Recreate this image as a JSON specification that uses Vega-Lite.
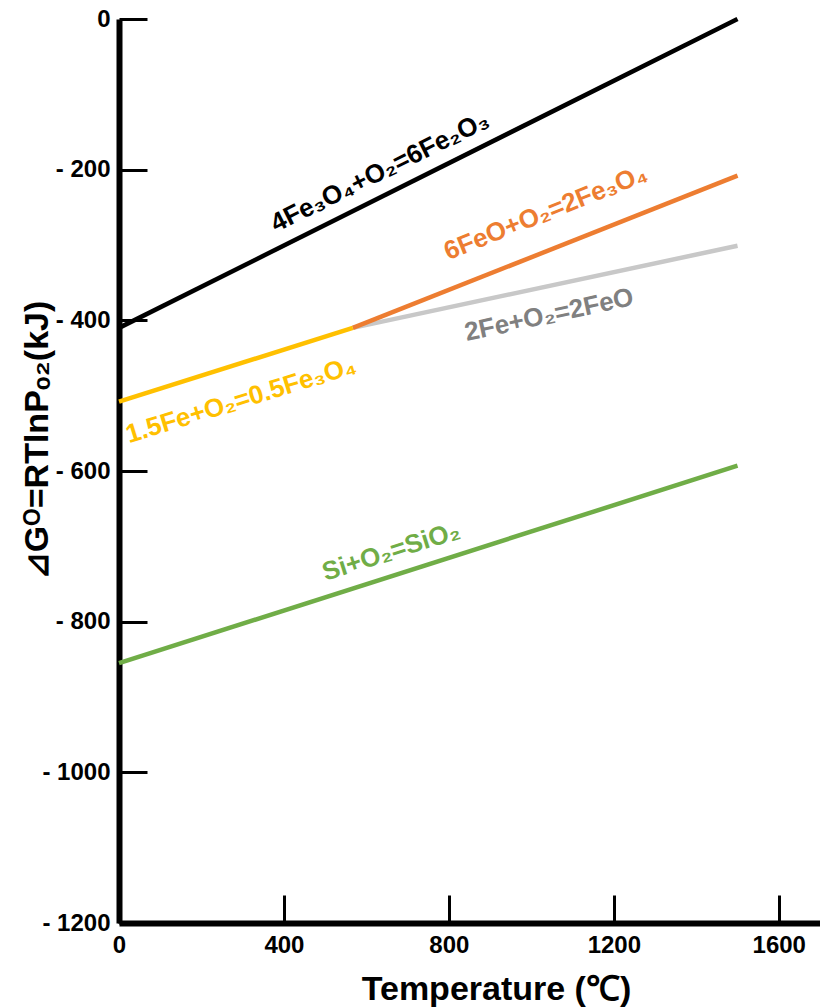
{
  "$schema": "https://vega.github.io/schema/vega-lite/v6.json",
  "autosize": "none",
  "width": 701,
  "height": 904,
  "padding": {"left": 119, "top": 19, "right": 0, "bottom": 84},
  "background": "white",
  "config": {
    "view": {"stroke": null},
    "font": "Liberation Sans",
    "axis": {
      "grid": false,
      "domainColor": "black",
      "domainWidth": 6,
      "tickColor": "black",
      "tickWidth": 3,
      "tickSize": -28,
      "labelFont": "Liberation Sans",
      "labelFontWeight": "bold",
      "labelFontSize": 24,
      "labelColor": "black",
      "labelFlush": false,
      "labelOverlap": false,
      "titleFont": "Liberation Sans",
      "titleFontWeight": "bold",
      "titleFontSize": 34,
      "titleColor": "black"
    }
  },
  "datasets": {
    "reactions": [
      {"reaction": "2Fe+O2=2FeO", "T": 567, "G": -410},
      {"reaction": "2Fe+O2=2FeO", "T": 1500, "G": -301},
      {"reaction": "6FeO+O2=2Fe3O4", "T": 567, "G": -410},
      {"reaction": "6FeO+O2=2Fe3O4", "T": 1500, "G": -208},
      {"reaction": "1.5Fe+O2=0.5Fe3O4", "T": 0, "G": -508},
      {"reaction": "1.5Fe+O2=0.5Fe3O4", "T": 567, "G": -410},
      {"reaction": "4Fe3O4+O2=6Fe2O3", "T": 0, "G": -410},
      {"reaction": "4Fe3O4+O2=6Fe2O3", "T": 1500, "G": 0},
      {"reaction": "Si+O2=SiO2", "T": 0, "G": -855},
      {"reaction": "Si+O2=SiO2", "T": 1500, "G": -593}
    ]
  },
  "layer": [
    {
      "data": {"name": "reactions"},
      "mark": {"type": "line", "strokeWidth": 4.5, "strokeCap": "butt"},
      "encoding": {
        "x": {
          "field": "T",
          "type": "quantitative",
          "scale": {"domain": [0, 1700], "nice": false, "zero": false},
          "axis": {
            "values": [0, 400, 800, 1200, 1600],
            "format": "d",
            "title": "Temperature (℃)",
            "labelPadding": 38,
            "titleX": 377,
            "titleY": 76,
            "titleBaseline": "alphabetic"
          }
        },
        "y": {
          "field": "G",
          "type": "quantitative",
          "scale": {"domain": [-1200, 0], "nice": false, "zero": false},
          "axis": {
            "values": [0, -200, -400, -600, -800, -1000, -1200],
            "labelExpr": "datum.value == 0 ? '0' : '-  ' + format(abs(datum.value), 'd')",
            "labelPadding": 37,
            "title": "⊿Gᴼ=RTlnPₒ₂(kJ)",
            "titleAngle": -90,
            "titleX": -72,
            "titleY": 421,
            "titleAlign": "center",
            "titleBaseline": "alphabetic"
          }
        },
        "color": {
          "field": "reaction",
          "type": "nominal",
          "scale": {
            "domain": ["2Fe+O2=2FeO", "6FeO+O2=2Fe3O4", "1.5Fe+O2=0.5Fe3O4", "4Fe3O4+O2=6Fe2O3", "Si+O2=SiO2"],
            "range": ["#C8C8C8", "#ED7D31", "#FFC000", "#000000", "#70AD47"]
          },
          "legend": null
        }
      }
    },
    {
      "data": {"values": [{"T": 633, "G": -203, "label": "4Fe₃O₄+O₂=6Fe₂O₃"}]},
      "mark": {"type": "text", "angle": -26.4, "fontSize": 26, "fontWeight": "bold", "color": "#000000", "align": "center", "baseline": "middle"},
      "encoding": {"x": {"field": "T", "type": "quantitative"}, "y": {"field": "G", "type": "quantitative"}, "text": {"field": "label"}}
    },
    {
      "data": {"values": [{"T": 1035, "G": -257, "label": "6FeO+O₂=2Fe₃O₄"}]},
      "mark": {"type": "text", "angle": -21.8, "fontSize": 26, "fontWeight": "bold", "color": "#ED7D31", "align": "center", "baseline": "middle"},
      "encoding": {"x": {"field": "T", "type": "quantitative"}, "y": {"field": "G", "type": "quantitative"}, "text": {"field": "label"}}
    },
    {
      "data": {"values": [{"T": 1043, "G": -393, "label": "2Fe+O₂=2FeO"}]},
      "mark": {"type": "text", "angle": -12.2, "fontSize": 26, "fontWeight": "bold", "color": "#808080", "align": "center", "baseline": "middle"},
      "encoding": {"x": {"field": "T", "type": "quantitative"}, "y": {"field": "G", "type": "quantitative"}, "text": {"field": "label"}}
    },
    {
      "data": {"values": [{"T": 296, "G": -506, "label": "1.5Fe+O₂=0.5Fe₃O₄"}]},
      "mark": {"type": "text", "angle": -17.2, "fontSize": 26, "fontWeight": "bold", "color": "#FFC000", "align": "center", "baseline": "middle"},
      "encoding": {"x": {"field": "T", "type": "quantitative"}, "y": {"field": "G", "type": "quantitative"}, "text": {"field": "label"}}
    },
    {
      "data": {"values": [{"T": 660, "G": -707, "label": "Si+O₂=SiO₂"}]},
      "mark": {"type": "text", "angle": -17.7, "fontSize": 26, "fontWeight": "bold", "color": "#70AD47", "align": "center", "baseline": "middle"},
      "encoding": {"x": {"field": "T", "type": "quantitative"}, "y": {"field": "G", "type": "quantitative"}, "text": {"field": "label"}}
    }
  ]
}
